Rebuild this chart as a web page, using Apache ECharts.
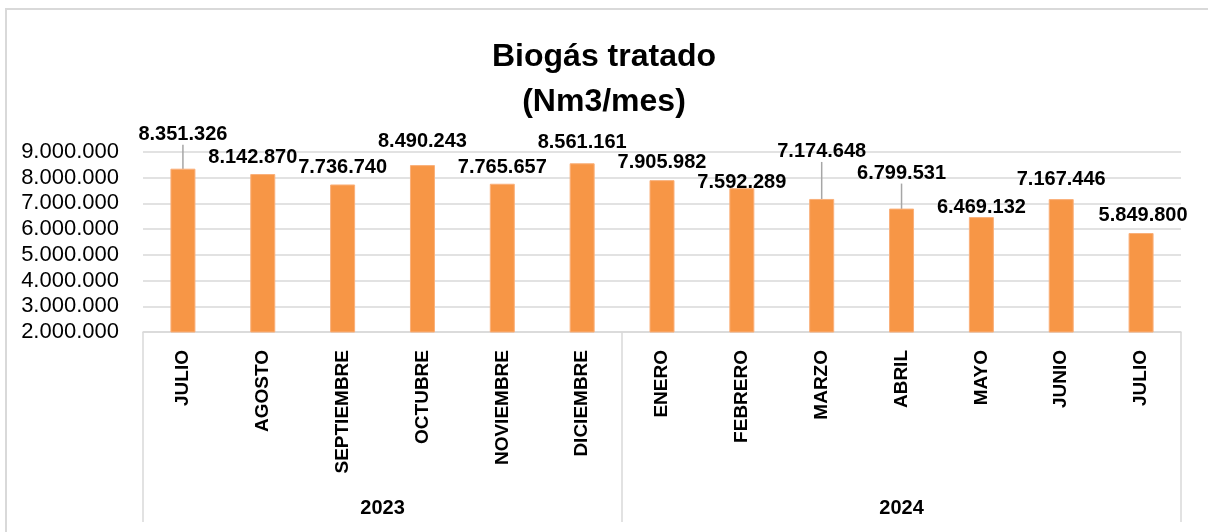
<!DOCTYPE html>
<html>
<head>
<meta charset="utf-8">
<script src="https://cdn.jsdelivr.net/npm/echarts@6/dist/echarts.min.js"></script>
<style>
    html, body { margin: 0; padding: 0; background: #fff; }
    #chart { width: 1208px; height: 532px; }
    #frame {
        position: absolute; left: 5px; top: 8px; width: 1210px; height: 540px;
        border-left: 2px solid #d9d9d9; border-top: 2px solid #d9d9d9;
        pointer-events: none;
    }
</style>
</head>
<body>
<div id="chart"></div>
<div id="frame"></div>
<script>
// meses y valores (Nm3/mes)
var meses = ['JULIO', 'AGOSTO', 'SEPTIEMBRE', 'OCTUBRE', 'NOVIEMBRE', 'DICIEMBRE',
    'ENERO', 'FEBRERO', 'MARZO', 'ABRIL', 'MAYO', 'JUNIO', 'JULIO'];
var biogas = [8351326, 8142870, 7736740, 8490243, 7765657, 8561161,
    7905982, 7592289, 7174648, 6799531, 6469132, 7167446, 5849800];
var anios = ['2023', '2024'];
var mesesPorAnio = [6, 7];
var yTicks = [2000000, 9000000, 1000000]; // min, max, intervalo

// desplazamiento manual de etiquetas (como en la hoja original)
var labelNudge = [[0, -19], [-10, -2], [0, -2], [0, -9], [0, -1], [0, -6],
    [0, -3], [0, 9], [0, -32], [0, -20], [0, 5], [0, -5], [2, -3]];
var conLinea = [true, false, false, false, false, false,
    false, false, true, true, false, false, false];

function puntos(n) {
    return String(n).replace(/\B(?=(\d{3})+(?!\d))/g, '.');
}

// limites y centros de cada año sobre el eje de meses
var limites = [0], centros = [];
mesesPorAnio.forEach(function(c, i) {
    var ini = limites[i];
    limites.push(ini + c);
    centros.push(ini + c / 2);
});

var chart = echarts.init(document.getElementById('chart'));
var font = '"Liberation Sans", Arial, sans-serif';
var gris = '#d9d9d9';

var option = {
    animation: false,
    title: {
        text: 'Biogás tratado\n(Nm3/mes)',
        left: 'center',
        top: 30,
        textStyle: {
            fontFamily: font,
            fontSize: 32,
            fontWeight: 'bold',
            lineHeight: 45,
            color: '#000'
        }
    },
    grid: {
        left: 143,
        right: 27,
        top: 152,
        bottom: 200
    },
    xAxis: [{
        type: 'category',
        data: meses,
        axisLine: { lineStyle: { color: gris, width: 1.5 } },
        axisTick: { show: false },
        axisLabel: {
            interval: 0,
            rotate: 90,
            margin: 18,
            fontFamily: font,
            fontSize: 19,
            fontWeight: 'bold',
            color: '#000'
        }
    }, {
        type: 'value',
        position: 'bottom',
        min: 0,
        max: limites[limites.length - 1],
        splitLine: { show: false },
        axisLine: { show: false },
        axisTick: {
            show: true,
            customValues: limites,
            length: 190,
            lineStyle: { color: gris, width: 1.5 }
        },
        axisLabel: {
            customValues: centros,
            margin: 166,
            fontFamily: font,
            fontSize: 20,
            fontWeight: 'bold',
            color: '#000',
            formatter: function(v) {
                return anios[centros.indexOf(v)];
            }
        }
    }],
    yAxis: {
        type: 'value',
        min: yTicks[0],
        max: yTicks[1],
        interval: yTicks[2],
        axisLine: { show: false },
        axisTick: { show: false },
        splitLine: { lineStyle: { color: gris, width: 1.5 } },
        axisLabel: {
            margin: 24,
            fontFamily: font,
            fontSize: 22,
            color: '#000',
            formatter: function(v) { return puntos(v); }
        }
    },
    series: [{
        type: 'bar',
        xAxisIndex: 0,
        barWidth: 25,
        itemStyle: { color: '#F79646', borderColor: '#FAB07A', borderWidth: 1 },
        data: biogas.map(function(v, i) {
            return {
                value: v,
                labelLine: { show: conLinea[i] }
            };
        }),
        label: {
            show: true,
            position: 'top',
            distance: 5,
            fontFamily: font,
            fontSize: 20,
            fontWeight: 'bold',
            color: '#000',
            formatter: function(p) { return puntos(p.value); }
        },
        labelLine: {
            show: false,
            lineStyle: { color: '#a6a6a6', width: 1.5 }
        },
        labelLayout: function(p) {
            var d = labelNudge[p.dataIndex];
            return { dx: d[0], dy: d[1] };
        }
    }]
};

chart.setOption(option);
</script>
</body>
</html>
